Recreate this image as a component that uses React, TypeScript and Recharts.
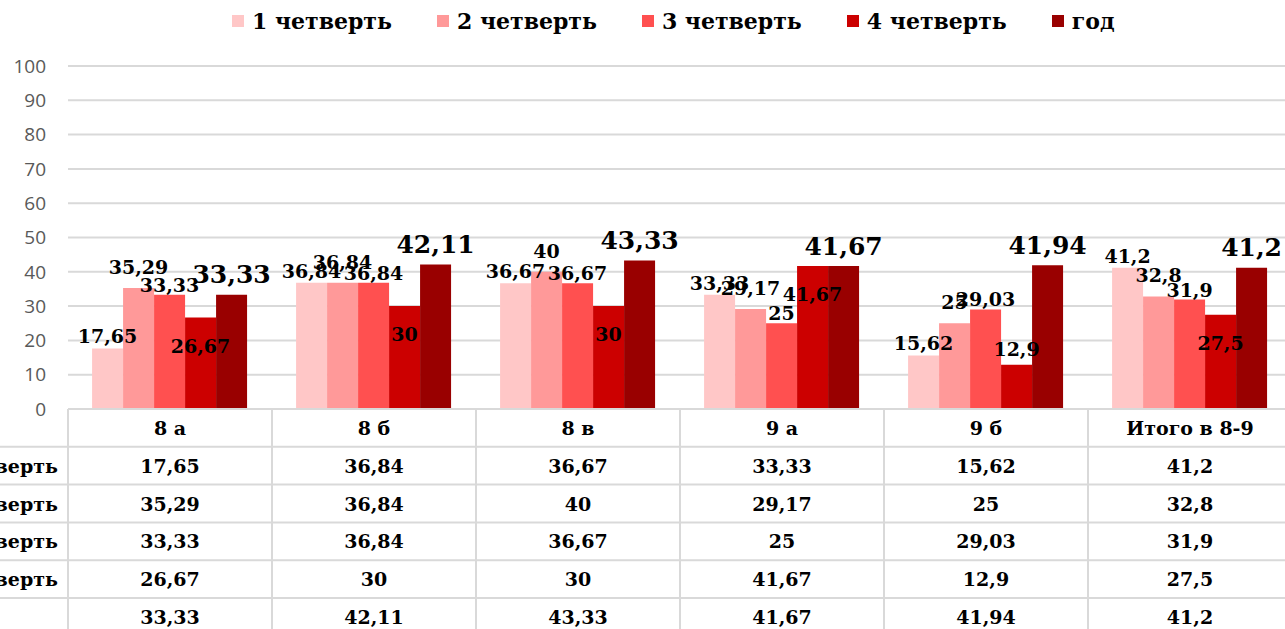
import React from 'react';
import { BarChart, Bar, XAxis, YAxis, CartesianGrid, Legend, LabelList } from 'recharts';

const categories = ['8 а', '8 б', '8 в', '9 а', '9 б', 'Итого в 8-9'];
const quarter1 = [17.65, 36.84, 36.67, 33.33, 15.62, 41.2];
const quarter2 = [35.29, 36.84, 40, 29.17, 25, 32.8];
const quarter3 = [33.33, 36.84, 36.67, 25, 29.03, 31.9];
const quarter4 = [26.67, 30, 30, 41.67, 12.9, 27.5];
const yearVals = [33.33, 42.11, 43.33, 41.67, 41.94, 41.2];
const seriesNames = ['1 четверть', '2 четверть', '3 четверть', '4 четверть', 'год'];
const seriesValues = [quarter1, quarter2, quarter3, quarter4, yearVals];
const colors = ['#FFC7C7', '#FF9999', '#FF5050', '#CC0000', '#990000'];
const yTicks = [0, 10, 20, 30, 40, 50, 60, 70, 80, 90, 100];

const data = categories.map((c, i) => {
  const row: any = { name: c };
  seriesValues.forEach((vals, s) => {
    row['s' + s] = vals[i];
  });
  return row;
});

const SERIF = '"DejaVu Serif", serif';
const fmt = (v: number) => String(v).replace('.', ',');

const W = 1400;
const H = 660;
const ROW_H = 37.8;
const GRID = '#d9d9d9';

const TableTick = (props: any) => {
  const { x, y, payload, index } = props;
  const half = payload && payload.offset ? payload.offset : 102;
  const left = x - half;
  const right = x + half;
  const els: any[] = [];
  els.push(
    <text key="h" x={x} y={y + ROW_H / 2} textAnchor="middle" dominantBaseline="central"
      fontFamily={SERIF} fontWeight="bold" fontSize={19} fill="#000">{payload.value}</text>
  );
  seriesValues.forEach((vals, r) => {
    els.push(
      <text key={'v' + r} x={x} y={y + ROW_H * (r + 1) + ROW_H / 2} textAnchor="middle" dominantBaseline="central"
        fontFamily={SERIF} fontWeight="bold" fontSize={19} fill="#000">{fmt(vals[index])}</text>
    );
  });
  els.push(<line key="lv" x1={left} x2={left} y1={y} y2={y + ROW_H * 7} stroke={GRID} strokeWidth={2} />);
  els.push(<line key="rv" x1={right} x2={right} y1={y} y2={y + ROW_H * 7} stroke={GRID} strokeWidth={2} />);
  for (let r = 0; r <= 6; r++) {
    els.push(<line key={'h' + r} x1={left} x2={right} y1={y + ROW_H * r} y2={y + ROW_H * r} stroke={GRID} strokeWidth={2} />);
  }
  if (index === 0) {
    seriesNames.forEach((n, r) => {
      els.push(
        <text key={'n' + r} x={left - 131} y={y + ROW_H * (r + 1) + ROW_H / 2} textAnchor="start" dominantBaseline="central"
          fontFamily={SERIF} fontWeight="bold" fontSize={19} fill="#000">{n}</text>
      );
    });
    for (let r = 1; r <= 6; r++) {
      els.push(<line key={'hl' + r} x1={0} x2={left} y1={y + ROW_H * r} y2={y + ROW_H * r} stroke={GRID} strokeWidth={2} />);
    }
  }
  return <g>{els}</g>;
};

const labelOffsets = [-12, -21, -10, -16, -20];

const makeLabel = (s: number) => (props: any) => {
  const { x, y, width, value } = props;
  const cx = x + width / 2;
  let cy = y + labelOffsets[s];
  let fs = 19;
  if (s === 3 && value >= 20) {
    cy = y + 28;
  }
  if (s === 4) {
    fs = 25;
  }
  return (
    <text x={cx} y={cy} textAnchor="middle" dominantBaseline="central"
      fontFamily={SERIF} fontWeight="bold" fontSize={fs} fill="#000">{fmt(value)}</text>
  );
};

const LegendContent = () => (
  <div style={{ display: 'flex', alignItems: 'center', paddingLeft: 332, fontFamily: SERIF, fontWeight: 'bold', fontSize: 22, lineHeight: '26px', color: '#000' }}>
    {seriesNames.map((n, i) => (
      <div key={n} style={{ display: 'flex', alignItems: 'center', marginRight: 45 }}>
        <span style={{ display: 'inline-block', width: 12, height: 12, background: colors[i], marginRight: 8 }} />
        <span>{n}</span>
      </div>
    ))}
  </div>
);

export default function App() {
  return (
    <div style={{ position: 'absolute', left: -100, top: 0, width: W, height: H }}>
      <BarChart width={W} height={H} data={data} margin={{ top: 40, right: 8, bottom: 0, left: 108 }}
        barCategoryGap="11.8%" barGap={0}>
        <CartesianGrid vertical={false} stroke={GRID} strokeWidth={2} />
        <XAxis dataKey="name" height={251} axisLine={false} tickLine={false} tickSize={0} tickMargin={0}
          interval={0} tick={<TableTick />} />
        <YAxis domain={[0, 100]} ticks={yTicks} width={60} axisLine={false} tickLine={false} tickSize={0} tickMargin={22}
          tick={{ fill: '#595959', fontSize: 19, fontFamily: '"Open Sans", sans-serif' }} />
        <Legend verticalAlign="top" content={<LegendContent />} wrapperStyle={{ top: 8, left: 0, width: W }} />
        {seriesNames.map((n, s) => (
          <Bar key={n} dataKey={'s' + s} name={n} fill={colors[s]} isAnimationActive={false}>
            <LabelList dataKey={'s' + s} content={makeLabel(s)} />
          </Bar>
        ))}
      </BarChart>
    </div>
  );
}
